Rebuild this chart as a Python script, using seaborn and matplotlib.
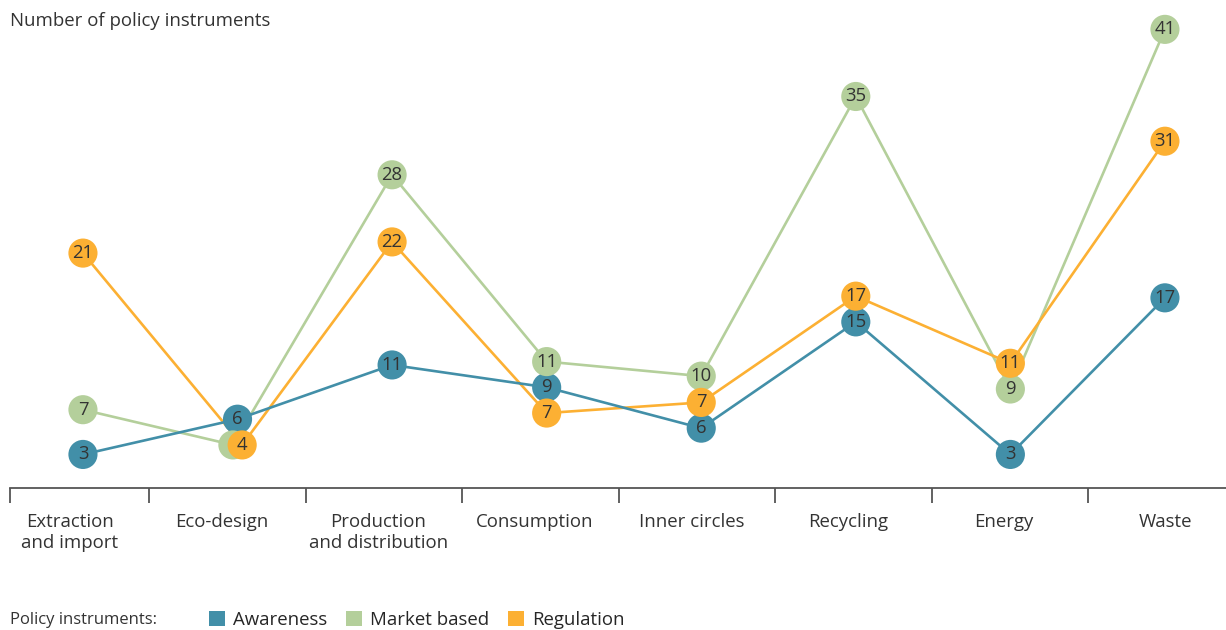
import numpy as np
import pandas as pd
import matplotlib
matplotlib.use("Agg")
import matplotlib.pyplot as plt
from matplotlib.patches import Patch
import seaborn as sns

categories = [
    "Extraction\nand import",
    "Eco-design",
    "Production\nand distribution",
    "Consumption",
    "Inner circles",
    "Recycling",
    "Energy",
    "Waste",
]
awareness = [3, 6, 11, 9, 6, 15, 3, 17]
market_based = [7, 4, 28, 11, 10, 35, 9, 41]
regulation = [21, 4, 22, 7, 7, 17, 11, 31]

series_names = ["Awareness", "Market based", "Regulation"]
colors = {"Awareness": "#428fa8", "Market based": "#b4cf9b", "Regulation": "#fcb033"}

rows = []
for name, vals in zip(series_names, [awareness, market_based, regulation]):
    for i, v in enumerate(vals):
        rows.append({"pos": i, "value": v, "series": name})
df = pd.DataFrame(rows)

# small x dodge where two series share the same value at a category
df["x"] = df["pos"].astype(float)
df["y"] = df["value"].astype(float)
for pos, grp in df.groupby("pos"):
    dup = grp[grp.duplicated("value", keep=False)]
    if len(dup) > 1:
        offs = np.linspace(-0.03, 0.03, len(dup))
        df.loc[dup.index, "x"] = df.loc[dup.index, "pos"] + offs

# push apart markers that sit too close vertically (label collision)
min_gap = 2.3
for pos, grp in df.groupby("pos"):
    g = grp.drop_duplicates("value").sort_values("y")
    idx = list(g.index)
    for _ in range(20):
        for a, b in zip(idx[:-1], idx[1:]):
            gap = df.at[b, "y"] - df.at[a, "y"]
            if gap < min_gap:
                d = (min_gap - gap) / 2
                df.loc[df["pos"].eq(pos) & df["value"].eq(df.at[a, "value"]), "y"] -= d
                df.loc[df["pos"].eq(pos) & df["value"].eq(df.at[b, "value"]), "y"] += d

sns.set_style("white")
plt.rcParams["font.family"] = ["Open Sans", "DejaVu Sans"]

fig = plt.figure(figsize=(12.26, 6.3), dpi=100)
ax = fig.add_axes([10 / 1226, 142 / 630, 1216 / 1226, 481 / 630])

sns.lineplot(
    data=df, x="x", y="y", hue="series", palette=colors,
    hue_order=["Market based", "Regulation", "Awareness"],
    linewidth=1.9, legend=False, ax=ax, zorder=2,
)
# markers + labels layered per series so a later circle hides earlier text
for k, name in enumerate(series_names):
    sub = df[df["series"] == name]
    sns.scatterplot(
        data=sub, x="x", y="y", color=colors[name], s=440,
        edgecolor="none", legend=False, ax=ax, zorder=3 + k,
    )
    for _, r in sub.iterrows():
        ax.text(r["x"], r["y"], str(r["value"]), ha="center", va="center",
                fontsize=13.3, color="#333333", zorder=3.5 + k)

xmin, xmax = -0.472, 7.395
ticks = [xmin, 0.43, 1.44, 2.45, 3.47, 4.48, 5.49, 6.5]
ax.set_xlim(xmin, xmax)
ax.set_ylim(0, 43)
label_edges = [-0.6] + ticks[1:] + [7.51]
label_pos = [(a + b) / 2 for a, b in zip(label_edges[:-1], label_edges[1:])]
label_pos = [p - 0.035 if 0 < i < len(label_pos) - 1 else p
             for i, p in enumerate(label_pos)]
ax.set_xticks(label_pos)
ax.set_xticklabels(categories, fontsize=13.4, color="#333333", linespacing=1.25)
ax.tick_params(axis="x", which="major", length=0, pad=18)
ax.set_xticks(ticks, minor=True)
ax.tick_params(axis="x", which="minor", bottom=True, length=11, width=1.3,
               color="#555555", direction="out")
ax.set_yticks([])
ax.set_xlabel("")
ax.set_ylabel("")
for s in ["top", "right", "left"]:
    ax.spines[s].set_visible(False)
ax.spines["bottom"].set_color("#555555")
ax.spines["bottom"].set_linewidth(1.3)

fig.text(10 / 1226, 1 - 21 / 630, "Number of policy instruments",
         fontsize=13.4, color="#333333", va="center")
fig.text(10 / 1226, 1 - 620 / 630, "Policy instruments:",
         fontsize=12, color="#333333", va="center")
handles = [Patch(facecolor=colors[n], edgecolor="none", label=n) for n in series_names]
fig.legend(handles=handles, loc="center left", ncol=3, frameon=False,
           bbox_to_anchor=(209 / 1226, 1 - 620 / 630), fontsize=13.4,
           handlelength=0.85, handleheight=0.85, handletextpad=0.45,
           columnspacing=1.0, borderaxespad=0, borderpad=0)

fig.savefig("out.png", dpi=100)
